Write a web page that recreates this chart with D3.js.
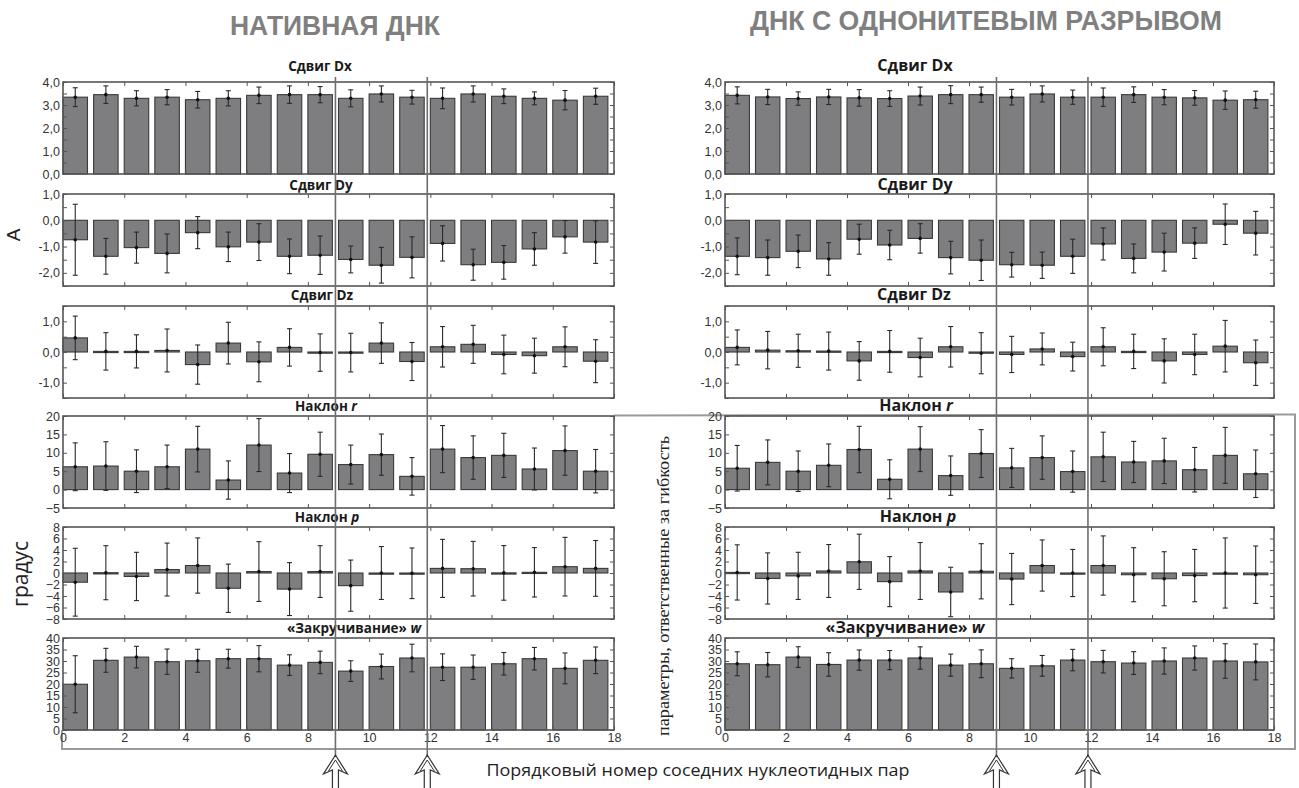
<!DOCTYPE html>
<html>
<head>
<meta charset="utf-8">
<script src="https://cdn.jsdelivr.net/npm/d3@7"></script>
<style>
  body { margin: 0; background: #fff; }
  svg { display: block; }
</style>
</head>
<body>
<script>
// Step index of neighbouring nucleotide pairs
const steps = d3.range(18);
const xTickValues = [0, 2, 4, 6, 8, 10, 12, 14, 16, 18];

// ---- native DNA: means and standard deviations ----
const nativeDx    = [3.34, 3.45, 3.29, 3.34, 3.23, 3.29, 3.42, 3.45, 3.45, 3.29, 3.48, 3.34, 3.29, 3.48, 3.38, 3.29, 3.21, 3.38];
const nativeDxErr = [0.41, 0.38, 0.33, 0.33, 0.36, 0.33, 0.36, 0.38, 0.35, 0.37, 0.35, 0.30, 0.45, 0.35, 0.32, 0.28, 0.42, 0.35];
const nativeDy    = [-0.74, -1.37, -1.04, -1.26, -0.47, -1.01, -0.83, -1.37, -1.33, -1.49, -1.71, -1.41, -0.88, -1.69, -1.60, -1.09, -0.63, -0.83];
const nativeDyErr = [1.35, 0.68, 0.59, 0.74, 0.61, 0.56, 0.70, 0.66, 0.73, 0.51, 0.68, 0.78, 0.67, 0.59, 0.64, 0.62, 0.62, 0.81];
const nativeDz    = [0.46, 0.02, 0.02, 0.05, -0.41, 0.29, -0.32, 0.15, -0.02, -0.02, 0.29, -0.31, 0.17, 0.25, -0.08, -0.12, 0.17, -0.30];
const nativeDzErr = [0.71, 0.61, 0.54, 0.70, 0.64, 0.68, 0.65, 0.61, 0.61, 0.63, 0.66, 0.62, 0.66, 0.62, 0.63, 0.57, 0.65, 0.70];
const nativeR     = [6.2, 6.4, 5.0, 6.2, 11.0, 2.6, 12.1, 4.5, 9.6, 6.8, 9.5, 3.6, 11.0, 8.7, 9.3, 5.6, 10.6, 5.0];
const nativeRErr  = [6.5, 6.6, 5.8, 5.9, 6.2, 5.2, 7.2, 5.3, 6.0, 5.3, 5.6, 5.1, 6.4, 5.9, 6.0, 5.7, 6.7, 5.9];
const nativeP     = [-1.6, 0.05, -0.6, 0.6, 1.3, -2.65, 0.25, -2.8, 0.25, -2.2, 0.0, -0.05, 0.8, 0.75, 0.02, 0.12, 1.1, 0.8];
const nativePErr  = [5.9, 4.7, 4.2, 4.6, 4.8, 4.2, 5.2, 4.6, 4.5, 4.45, 4.6, 4.4, 5.05, 4.75, 4.75, 4.3, 5.1, 4.85];
const nativeW     = [19.9, 30.3, 31.7, 29.7, 30.1, 31.0, 31.0, 28.2, 29.4, 25.6, 27.6, 31.3, 27.3, 27.3, 28.8, 31.0, 26.8, 30.3];
const nativeWErr  = [12.4, 5.2, 4.7, 5.5, 5.0, 4.1, 5.7, 4.5, 4.9, 4.5, 5.4, 6.0, 5.8, 5.3, 4.9, 4.9, 6.7, 5.8];

// ---- nicked DNA: means and standard deviations ----
const nickDx    = [3.42, 3.35, 3.28, 3.35, 3.31, 3.28, 3.39, 3.45, 3.45, 3.34, 3.48, 3.34, 3.34, 3.45, 3.34, 3.31, 3.21, 3.23];
const nickDxErr = [0.37, 0.33, 0.29, 0.33, 0.36, 0.34, 0.39, 0.39, 0.33, 0.34, 0.35, 0.31, 0.40, 0.34, 0.33, 0.32, 0.40, 0.37];
const nickDy    = [-1.37, -1.42, -1.18, -1.47, -0.72, -0.94, -0.69, -1.42, -1.52, -1.69, -1.71, -1.37, -0.90, -1.45, -1.21, -0.87, -0.15, -0.49];
const nickDyErr = [0.70, 0.67, 0.62, 0.62, 0.57, 0.56, 0.56, 0.62, 0.77, 0.47, 0.50, 0.65, 0.61, 0.55, 0.72, 0.58, 0.77, 0.83];
const nickDz    = [0.15, 0.06, 0.04, 0.03, -0.29, 0.02, -0.18, 0.17, -0.04, -0.08, 0.10, -0.15, 0.17, 0.02, -0.29, -0.08, 0.19, -0.35];
const nickDzErr = [0.57, 0.61, 0.54, 0.62, 0.63, 0.68, 0.63, 0.66, 0.67, 0.59, 0.52, 0.47, 0.62, 0.56, 0.72, 0.66, 0.84, 0.74];
const nickR     = [5.8, 7.4, 5.0, 6.6, 10.9, 2.8, 11.0, 3.8, 9.8, 5.9, 8.7, 4.9, 8.9, 7.5, 7.8, 5.4, 9.3, 4.3];
const nickRErr  = [6.2, 6.1, 5.5, 5.8, 6.3, 5.3, 6.1, 5.35, 6.5, 5.3, 5.9, 5.6, 6.7, 5.6, 6.15, 6.05, 7.6, 6.45];
const nickP     = [0.1, -0.95, -0.5, 0.35, 1.95, -1.5, 0.35, -3.3, 0.3, -1.05, 1.3, 0.0, 1.3, -0.3, -1.0, -0.45, 0.0, -0.3];
const nickPErr  = [4.8, 4.45, 4.1, 4.6, 4.8, 4.35, 4.95, 4.3, 4.8, 4.45, 4.45, 4.1, 5.15, 4.7, 4.7, 4.55, 6.1, 5.0];
const nickW     = [28.8, 28.4, 31.7, 28.5, 30.4, 30.4, 31.3, 28.2, 28.8, 26.8, 27.9, 30.4, 29.7, 29.1, 30.0, 31.3, 30.0, 29.6];
const nickWErr  = [5.2, 5.3, 4.5, 5.1, 4.4, 4.15, 4.85, 4.8, 6.05, 4.2, 4.5, 4.65, 4.9, 4.95, 5.7, 5.25, 7.5, 7.8];

// ---- axis ticks and labels ----
const dxTicks = d3.range(0, 4.01, 0.5),   dxLabels = [0, 1, 2, 3, 4];
const dyTicks = d3.range(-2.5, 1.01, 0.5), dyLabels = [-2, -1, 0, 1];
const dzTicks = d3.range(-1.5, 1.51, 0.5), dzLabels = [-1, 0, 1];
const rTicks  = [-5, 0, 5, 10, 15, 20],   rLabels = rTicks;
const pTicks  = [-8, -6, -4, -2, 0, 2, 4, 6, 8], pLabels = pTicks;
const wTicks  = [0, 5, 10, 15, 20, 25, 30, 35, 40], wLabels = wTicks;

const commaFmt = v => d3.format(".1f")(v).replace(".", ",").replace("\u2212", "-");
const intFmt = v => d3.format("d")(v);

const panels = [
  { key: "Dx", title: "Сдвиг Dx", italic: "", domain: [0, 4],      ticks: dxTicks, labels: dxLabels, fmt: commaFmt },
  { key: "Dy", title: "Сдвиг Dy", italic: "", domain: [-2.5, 1],   ticks: dyTicks, labels: dyLabels, fmt: commaFmt },
  { key: "Dz", title: "Сдвиг Dz", italic: "", domain: [-1.5, 1.5], ticks: dzTicks, labels: dzLabels, fmt: commaFmt },
  { key: "r",  title: "Наклон ", italic: "r", domain: [-5, 20],    ticks: rTicks,  labels: rLabels,  fmt: intFmt },
  { key: "p",  title: "Наклон ", italic: "p", domain: [-8, 8],     ticks: pTicks,  labels: pLabels,  fmt: intFmt },
  { key: "w",  title: "«Закручивание» ", italic: "w", domain: [0, 40], ticks: wTicks, labels: wLabels, fmt: intFmt }
];

const columns = [
  {
    heading: "НАТИВНАЯ ДНК", headX: 335, headY: 35, headLen: 210,
    x0: 63, x1: 614, labelEnd: 60, titleSize: 13.5,
    titleX: [320, 321, 322, 326, 327, 354],
    data: {
      Dx: [nativeDx, nativeDxErr], Dy: [nativeDy, nativeDyErr], Dz: [nativeDz, nativeDzErr],
      r: [nativeR, nativeRErr], p: [nativeP, nativePErr], w: [nativeW, nativeWErr]
    }
  },
  {
    heading: "ДНК С ОДНОНИТЕВЫМ РАЗРЫВОМ", headX: 986, headY: 30, headLen: 472,
    x0: 725, x1: 1274, labelEnd: 722, titleSize: 16,
    titleX: [915, 915, 914, 916, 918, 905],
    data: {
      Dx: [nickDx, nickDxErr], Dy: [nickDy, nickDyErr], Dz: [nickDz, nickDzErr],
      r: [nickR, nickRErr], p: [nickP, nickPErr], w: [nickW, nickWErr]
    }
  }
];

const panelTops = [82, 194, 306, 416, 527, 638];
const titleYs   = [66, 185, 295, 406, 517, 628];
const panelH = 92;

const W = 1299, H = 788;
const svg = d3.select("body").append("svg")
  .attr("width", W).attr("height", H)
  .attr("viewBox", `0 0 ${W} ${H}`);
svg.append("rect").attr("width", W).attr("height", H).attr("fill", "#fff");

const BAR_FILL = "#7e7e81", BAR_EDGE = "#3a3a3a", FRAME = "#555", INK = "#2a2a2a";

// Bracket around the flexibility-related panels
const boxColor = "#9a9a9a";
svg.append("path")
  .attr("d", `M614,415.5 L1295,414.5 L1295,749 L62,749 L62,730`)
  .attr("fill", "none").attr("stroke", boxColor).attr("stroke-width", 2);

columns.forEach(col => {
  const x = d3.scaleLinear().domain([0, 18]).range([col.x0, col.x1]);
  const g = svg.append("g");

  // Column heading
  g.append("text")
    .attr("x", col.headX).attr("y", col.headY)
    .attr("text-anchor", "middle")
    .attr("font-family", "Liberation Sans, Arial, sans-serif")
    .attr("font-weight", "bold").attr("font-size", 27)
    .attr("fill", "#808080")
    .attr("textLength", col.headLen).attr("lengthAdjust", "spacingAndGlyphs")
    .text(col.heading);

  panels.forEach((pn, k) => {
    const top = panelTops[k];
    const y = d3.scaleLinear().domain(pn.domain).range([top + panelH, top]);
    const [vals, errs] = col.data[pn.key];
    const pg = g.append("g");

    // Bars
    pg.selectAll("rect.bar").data(steps).join("rect")
      .attr("class", "bar")
      .attr("x", i => x(i))
      .attr("width", i => x(i + 0.8) - x(i))
      .attr("y", i => y(Math.max(vals[i], 0)))
      .attr("height", i => Math.max(Math.abs(y(vals[i]) - y(0)), 1.2))
      .attr("fill", BAR_FILL).attr("stroke", BAR_EDGE).attr("stroke-width", 1.1);

    // Error bars with caps and mean marker
    const eg = pg.selectAll("g.err").data(steps).join("g").attr("class", "err");
    eg.append("line")
      .attr("x1", i => x(i + 0.4)).attr("x2", i => x(i + 0.4))
      .attr("y1", i => y(vals[i] - errs[i])).attr("y2", i => y(vals[i] + errs[i]))
      .attr("stroke", INK).attr("stroke-width", 1.1);
    [-1, 1].forEach(s => {
      eg.append("line")
        .attr("x1", i => x(i + 0.4) - 2.5).attr("x2", i => x(i + 0.4) + 2.5)
        .attr("y1", i => y(vals[i] + s * errs[i])).attr("y2", i => y(vals[i] + s * errs[i]))
        .attr("stroke", INK).attr("stroke-width", 1.1);
    });
    eg.append("circle")
      .attr("cx", i => x(i + 0.4)).attr("cy", i => y(vals[i]))
      .attr("r", 1.8).attr("fill", "#111");

    // Inward ticks on all four sides
    const tickG = pg.append("g").attr("stroke", FRAME);
    tickG.append("g").attr("transform", `translate(${col.x0},0)`)
      .call(d3.axisLeft(y).tickValues(pn.ticks).tickSize(-4).tickFormat(""));
    tickG.append("g").attr("transform", `translate(${col.x1},0)`)
      .call(d3.axisRight(y).tickValues(pn.ticks).tickSize(-4).tickFormat(""));
    tickG.append("g").attr("transform", `translate(0,${top})`)
      .call(d3.axisTop(x).tickValues(xTickValues).tickSize(-4).tickFormat(""));
    tickG.append("g").attr("transform", `translate(0,${top + panelH})`)
      .call(d3.axisBottom(x).tickValues(xTickValues).tickSize(-4).tickFormat(""));
    tickG.selectAll(".domain").remove();
    tickG.selectAll(".tick line").attr("stroke", FRAME).attr("stroke-width", 1);

    // Y tick labels
    const lab = pg.append("g").attr("transform", `translate(${col.labelEnd + 3},0)`)
      .call(d3.axisLeft(y).tickValues(pn.labels).tickSize(0).tickPadding(3).tickFormat(pn.fmt));
    lab.select(".domain").remove();
    lab.selectAll("text")
      .attr("font-family", "Liberation Sans, Arial, sans-serif")
      .attr("font-size", 12.5).attr("fill", "#333");

    // Frame
    pg.append("rect")
      .attr("x", col.x0).attr("y", top)
      .attr("width", col.x1 - col.x0).attr("height", panelH)
      .attr("fill", "none").attr("stroke", FRAME).attr("stroke-width", 1.6);

    // Panel title
    const t = pg.append("text")
      .attr("x", col.titleX[k]).attr("y", titleYs[k] + 5)
      .attr("text-anchor", "middle")
      .attr("font-family", "Open Sans, Liberation Sans, sans-serif")
      .attr("font-weight", "bold").attr("font-size", col.titleSize)
      .attr("fill", "#1a1a1a");
    t.append("tspan").text(pn.title);
    if (pn.italic) t.append("tspan").attr("font-style", "italic").text(pn.italic);

    // X tick labels on the bottom panel only
    if (k === panels.length - 1) {
      const xl = pg.append("g").attr("transform", `translate(0,${top + panelH})`)
        .call(d3.axisBottom(x).tickValues(xTickValues).tickSize(0).tickPadding(3).tickFormat(d3.format("d")));
      xl.select(".domain").remove();
      xl.selectAll("text")
        .attr("font-family", "Liberation Sans, Arial, sans-serif")
        .attr("font-size", 12.5).attr("fill", "#333");
    }
  });

  // Markers of the nick site: vertical guides and hollow arrows
  [8.9, 11.9].forEach(pos => {
    const cx = x(pos);
    g.append("line")
      .attr("x1", cx).attr("x2", cx).attr("y1", 77).attr("y2", 756)
      .attr("stroke", "#6e6e6e").attr("stroke-width", 1.6);
    g.append("path")
      .attr("d", `M${cx - 3},788 L${cx - 3},770 L${cx - 12},774 L${cx},755 L${cx + 12},774 L${cx + 3},770 L${cx + 3},788`)
      .attr("fill", "#fff").attr("stroke", "#333").attr("stroke-width", 1.2)
      .attr("stroke-linejoin", "miter");
    g.append("path")
      .attr("d", `M${cx - 7},771 L${cx},760 L${cx + 7},771`)
      .attr("fill", "none").attr("stroke", "#333").attr("stroke-width", 1);
  });
});

// Axis titles
svg.append("text")
  .attr("transform", "translate(20,235) rotate(-90)")
  .attr("text-anchor", "middle")
  .attr("font-family", "Liberation Sans, Arial, sans-serif")
  .attr("font-size", 19).attr("fill", "#222")
  .text("А");

svg.append("text")
  .attr("transform", "translate(28,574) rotate(-90)")
  .attr("text-anchor", "middle")
  .attr("font-family", "Open Sans, sans-serif")
  .attr("font-size", 21).attr("fill", "#222")
  .text("градус");

svg.append("text")
  .attr("transform", "translate(669,586) rotate(-90)")
  .attr("text-anchor", "middle")
  .attr("font-family", "Liberation Serif, DejaVu Serif, serif")
  .attr("font-size", 16).attr("fill", "#222")
  .attr("textLength", 300).attr("lengthAdjust", "spacingAndGlyphs")
  .text("параметры,  ответственные  за гибкость");

svg.append("text")
  .attr("x", 698).attr("y", 776)
  .attr("text-anchor", "middle")
  .attr("font-family", "Open Sans, sans-serif")
  .attr("font-size", 17).attr("fill", "#222")
  .attr("textLength", 423).attr("lengthAdjust", "spacingAndGlyphs")
  .text("Порядковый номер  соседних нуклеотидных пар");
</script>
</body>
</html>
